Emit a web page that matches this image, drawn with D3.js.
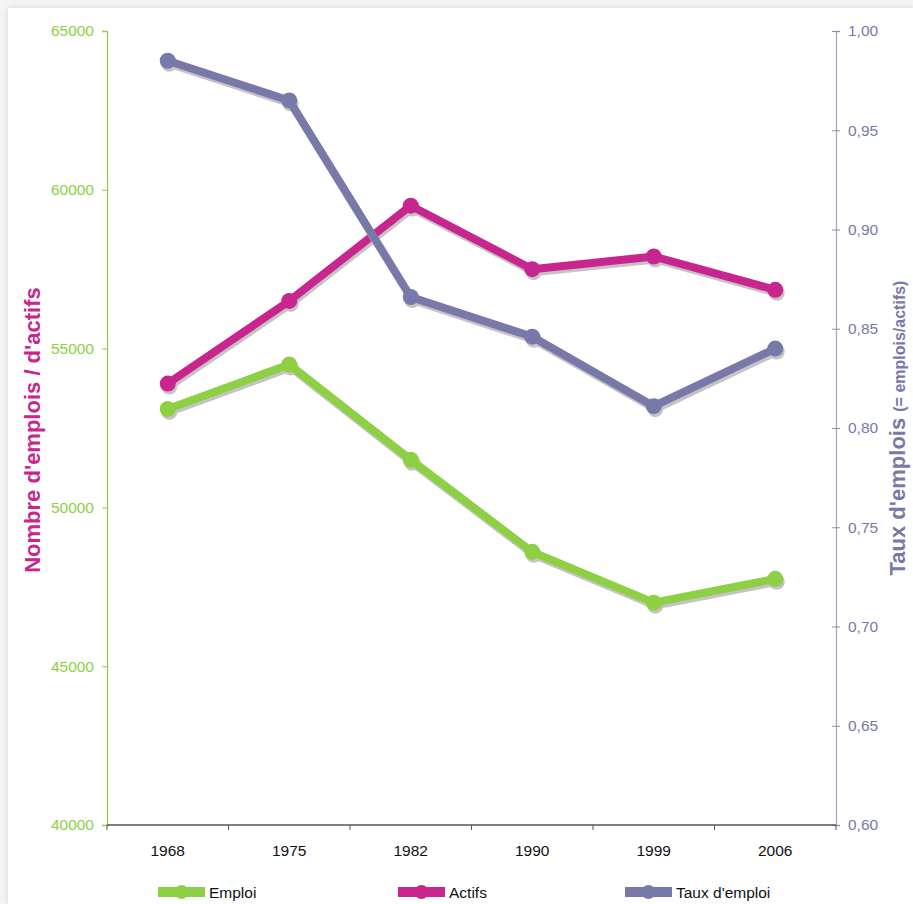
<!DOCTYPE html>
<html>
<head>
<meta charset="utf-8">
<script src="https://cdn.jsdelivr.net/npm/d3@7"></script>
<style>
  html, body { margin: 0; padding: 0; background: #f4f4f4; }
  svg { display: block; font-family: "Liberation Sans", Arial, sans-serif; }
</style>
</head>
<body>
<script>
// Census years and series
const years = ["1968", "1975", "1982", "1990", "1999", "2006"];
const emploi = [53100, 54500, 51500, 48600, 47000, 47750];
const actifs = [53900, 56500, 59500, 57500, 57900, 56850];
const tauxEmploi = [0.985, 0.965, 0.866, 0.846, 0.811, 0.840];

const leftTicks = [40000, 45000, 50000, 55000, 60000, 65000];
const rightTicks = [0.60, 0.65, 0.70, 0.75, 0.80, 0.85, 0.90, 0.95, 1.00];

const W = 913, H = 904;
const m = { left: 107, right: 77, top: 31, bottom: 79 };
const labelSize = 15.5;

const svg = d3.select("body").append("svg").attr("width", W).attr("height", H);

const defs = svg.append("defs");
const f = defs.append("filter").attr("id", "panelShadow")
  .attr("x", "-5%").attr("y", "-5%").attr("width", "110%").attr("height", "110%");
f.append("feGaussianBlur").attr("in", "SourceAlpha").attr("stdDeviation", 3);
f.append("feComponentTransfer").append("feFuncA").attr("type", "linear").attr("slope", 0.12);
const fm = f.append("feMerge");
fm.append("feMergeNode");
fm.append("feMergeNode").attr("in", "SourceGraphic");

// white panel
svg.append("rect").attr("x", 8).attr("y", 8).attr("width", W - 8).attr("height", H - 8)
  .attr("fill", "#fff").attr("filter", "url(#panelShadow)");

const x = d3.scaleBand().domain(years).range([m.left, W - m.right]);
const yL = d3.scaleLinear().domain([40000, 65000]).range([H - m.bottom, m.top]);
const yR = d3.scaleLinear().domain([0.60, 1.00]).range([H - m.bottom, m.top]);

const green = "#8ed044", magenta = "#c8268e", slate = "#7779a8";

// left axis
const gL = svg.append("g").attr("transform", `translate(${m.left},0)`)
  .call(d3.axisLeft(yL).tickValues(leftTicks).tickSize(5).tickPadding(8).tickFormat(d3.format("d")));
gL.select(".domain").attr("stroke", green).attr("stroke-width", 1.3);
gL.selectAll(".tick line").attr("stroke", green);
gL.selectAll(".tick text").attr("fill", green).attr("font-size", labelSize).attr("font-family", "Liberation Sans, Arial, sans-serif");

// right axis
const gR = svg.append("g").attr("transform", `translate(${W - m.right},0)`)
  .call(d3.axisRight(yR).tickValues(rightTicks).tickSize(4).tickPadding(8)
    .tickFormat(d => d3.format(".2f")(d).replace(".", ",")));
gR.select(".domain").attr("stroke", "#a4a6cc").attr("stroke-width", 1.3);
gR.selectAll(".tick line").attr("stroke", "#8a8cb8").attr("x1", -4);
gR.selectAll(".tick text").attr("fill", "#7779a8").attr("font-size", labelSize).attr("font-family", "Liberation Sans, Arial, sans-serif");

// bottom axis with ticks at band boundaries
const gB = svg.append("g").attr("transform", `translate(0,${H - m.bottom})`);
gB.append("line").attr("x1", m.left).attr("x2", W - m.right).attr("stroke", "#555").attr("stroke-width", 1.3);
const bounds = years.map(y => x(y)).concat([x(years[years.length - 1]) + x.bandwidth()]);
gB.selectAll("line.bt").data(bounds).join("line").attr("class", "bt")
  .attr("x1", d => d).attr("x2", d => d).attr("y1", 0).attr("y2", 5).attr("stroke", "#555");
gB.selectAll("text").data(years).join("text")
  .attr("x", d => x(d) + x.bandwidth() / 2).attr("y", 31)
  .attr("text-anchor", "middle").attr("font-size", labelSize).attr("fill", "#111").text(d => d);

// axis titles
svg.append("text")
  .attr("transform", `translate(40,${(m.top + H - m.bottom) / 2 + 2}) rotate(-90)`)
  .attr("text-anchor", "middle").attr("font-size", 22).attr("font-weight", "bold")
  .attr("fill", magenta).text("Nombre d'emplois / d'actifs");

const rt = svg.append("text")
  .attr("transform", `translate(905,${(m.top + H - m.bottom) / 2}) rotate(-90)`)
  .attr("text-anchor", "middle").attr("font-weight", "bold").attr("fill", slate);
rt.append("tspan").attr("font-size", 22).text("Taux d'emplois ");
rt.append("tspan").attr("font-size", 16).text("(= emplois/actifs)");

// series
const cx = d => x(d) + x.bandwidth() / 2;
const series = [
  { vals: emploi, y: yL, color: green },
  { vals: actifs, y: yL, color: magenta },
  { vals: tauxEmploi, y: yR, color: slate }
];

const lw = 8, r = 8;
series.forEach(s => {
  const pts = years.map((yr, i) => [cx(yr), s.y(s.vals[i])]);
  const line = d3.line();
  // drop shadow
  const sh = svg.append("g").attr("transform", "translate(1.5,3)");
  sh.append("path").attr("d", line(pts)).attr("fill", "none").attr("stroke", "#c4c4c4")
    .attr("stroke-width", lw).attr("stroke-linejoin", "round");
  sh.selectAll("circle").data(pts).join("circle")
    .attr("cx", d => d[0]).attr("cy", d => d[1]).attr("r", r).attr("fill", "#c4c4c4");
  const g = svg.append("g");
  g.append("path").attr("d", line(pts)).attr("fill", "none").attr("stroke", s.color)
    .attr("stroke-width", lw).attr("stroke-linejoin", "round");
  g.selectAll("circle").data(pts).join("circle")
    .attr("cx", d => d[0]).attr("cy", d => d[1]).attr("r", r).attr("fill", s.color);
});

// legend
const legendItems = [
  { label: "Emploi", color: green, x: 158 },
  { label: "Actifs", color: magenta, x: 398 },
  { label: "Taux d'emploi", color: slate, x: 625 }
];
const lg = svg.append("g").attr("transform", "translate(0,892)");
legendItems.forEach(it => {
  lg.append("rect").attr("x", it.x).attr("y", -5).attr("width", 47).attr("height", 10).attr("fill", it.color);
  lg.append("circle").attr("cx", it.x + 23.5).attr("cy", 0).attr("r", 7).attr("fill", it.color);
  lg.append("text").attr("x", it.x + 51).attr("y", 5.5).attr("font-size", labelSize).attr("fill", "#111").text(it.label);
});
</script>
</body>
</html>
